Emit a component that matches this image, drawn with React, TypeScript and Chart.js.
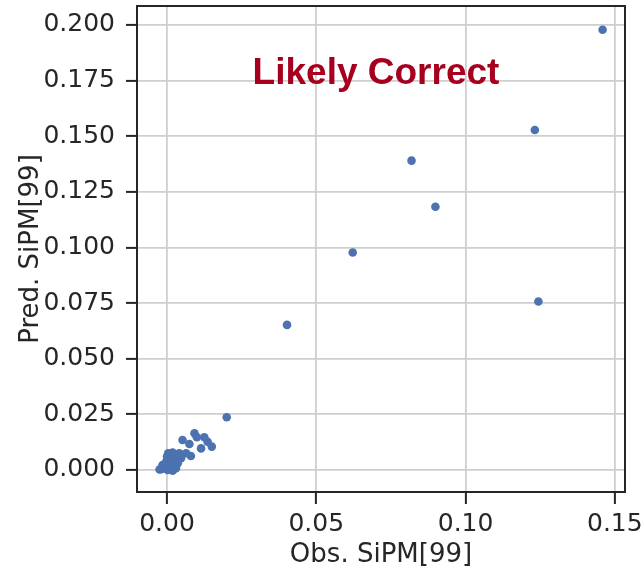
import React, { useEffect, useRef } from "react";
import { Chart, registerables } from "chart.js";

Chart.register(...registerables);

const obsValues = [
  0.1459, 0.1232, 0.1244, 0.0819, 0.0899, 0.0622, 0.0402, 0.0200,
  0.0052, 0.0092, 0.0100, 0.0125, 0.0136, 0.0150, 0.0114, 0.0075,
  0.0080, 0.0064, 0.0041, 0.0019, 0.0004, 0.0008, 0.0024, 0.0036,
  0.0019, -0.0003, -0.0009, -0.0020, 0.0002, 0.0019, 0.0030, 0.0009,
  -0.0015, 0.0000, 0.0047, 0.0030, 0.0012, -0.0005, 0.0026, 0.0006,
  -0.0025, 0.0013,
];
const predValues = [
  0.1978, 0.1528, 0.0757, 0.1390, 0.1183, 0.0977, 0.0652, 0.0237,
  0.0135, 0.0165, 0.0147, 0.0147, 0.0127, 0.0105, 0.0097, 0.0117,
  0.0063, 0.0075, 0.0075, 0.0078, 0.0075, 0.0053, 0.0048, 0.0030,
  0.0022, 0.0037, 0.0015, 0.0003, 0.0000, -0.0003, 0.0008, 0.0015,
  0.0022, 0.0060, 0.0053, 0.0060, 0.0040, 0.0008, 0.0012, 0.0028,
  0.0002, 0.0045,
];

const xTicks = [0.0, 0.05, 0.1, 0.15];
const yTicks = [0.0, 0.025, 0.05, 0.075, 0.1, 0.125, 0.15, 0.175, 0.2];

const xLabel = "Obs. SiPM[99]";
const yLabel = "Pred. SiPM[99]";
const annotationText = "Likely Correct";
const annotationPos = { x: 0.07, y: 0.1735 };

const X_MIN = -0.01005;
const X_MAX = 0.1534;
const Y_MIN = -0.0099;
const Y_MAX = 0.2085;

const TEXT = "#262626";
const GRID = "#cfcfcf";

export default function App() {
  const ref = useRef<HTMLCanvasElement | null>(null);

  useEffect(() => {
    if (!ref.current) return;
    const points = obsValues.map((x, i) => ({ x, y: predValues[i] }));

    const framePlugin = {
      id: "frameAndText",
      afterDraw(chart: any) {
        const { ctx, chartArea } = chart;
        ctx.save();
        ctx.strokeStyle = TEXT;
        ctx.lineWidth = 2;
        ctx.strokeRect(
          chartArea.left,
          chartArea.top,
          chartArea.right - chartArea.left,
          chartArea.bottom - chartArea.top
        );
        const xs = chart.scales.x;
        const ys = chart.scales.y;
        ctx.fillStyle = "#a6001e";
        ctx.font = 'bold 37px "Liberation Sans", Arial, sans-serif';
        ctx.textAlign = "center";
        ctx.textBaseline = "alphabetic";
        ctx.fillText(
          annotationText,
          xs.getPixelForValue(annotationPos.x),
          ys.getPixelForValue(annotationPos.y)
        );
        ctx.restore();
      },
    };

    const chart = new Chart(ref.current, {
      type: "scatter",
      data: {
        datasets: [
          {
            data: points,
            backgroundColor: "#4c72b0",
            borderWidth: 0,
            pointRadius: 4.3,
          },
        ],
      },
      options: {
        animation: false,
        responsive: true,
        maintainAspectRatio: false,
        layout: { padding: { top: 6, right: 18, left: 0, bottom: 0 } },
        plugins: {
          legend: { display: false },
          tooltip: { enabled: false },
        },
        scales: {
          x: {
            type: "linear",
            min: X_MIN,
            max: X_MAX,
            afterBuildTicks: (s: any) => {
              s.ticks = xTicks.map((v) => ({ value: v }));
            },
            afterFit: (s: any) => {
              s.height = 76;
              s.paddingLeft = 0;
              s.paddingRight = 0;
            },
            border: { display: false },
            grid: {
              color: GRID,
              lineWidth: 1.8,
              drawTicks: true,
              tickLength: 12,
              tickColor: TEXT,
              tickWidth: 2,
            },
            ticks: {
              color: TEXT,
              padding: 5,
              maxRotation: 0,
              font: { family: "DejaVu Sans", size: 25 },
              callback: (v: any) => Number(v).toFixed(2),
            },
            title: {
              display: true,
              text: xLabel,
              color: TEXT,
              font: { family: "DejaVu Sans", size: 26 },
              padding: { top: 0, bottom: -3 },
            },
          },
          y: {
            type: "linear",
            min: Y_MIN,
            max: Y_MAX,
            afterBuildTicks: (s: any) => {
              s.ticks = yTicks.map((v) => ({ value: v }));
            },
            afterFit: (s: any) => {
              s.width = 137;
              s.paddingTop = 0;
              s.paddingBottom = 0;
            },
            border: { display: false },
            grid: {
              color: GRID,
              lineWidth: 1.8,
              drawTicks: true,
              tickLength: 11,
              tickColor: TEXT,
              tickWidth: 2,
            },
            ticks: {
              color: TEXT,
              padding: 11,
              font: { family: "DejaVu Sans", size: 25 },
              callback: (v: any) => Number(v).toFixed(3),
            },
            title: {
              display: true,
              text: yLabel,
              color: TEXT,
              font: { family: "DejaVu Sans", size: 26 },
              padding: { top: 16, bottom: 0 },
            },
          },
        },
      },
      plugins: [framePlugin],
    });
    return () => chart.destroy();
  }, []);

  return (
    <div style={{ position: "absolute", left: 0, top: 0, width: 643, height: 568 }}>
      <canvas ref={ref} style={{ width: "100%", height: "100%" }} />
    </div>
  );
}
